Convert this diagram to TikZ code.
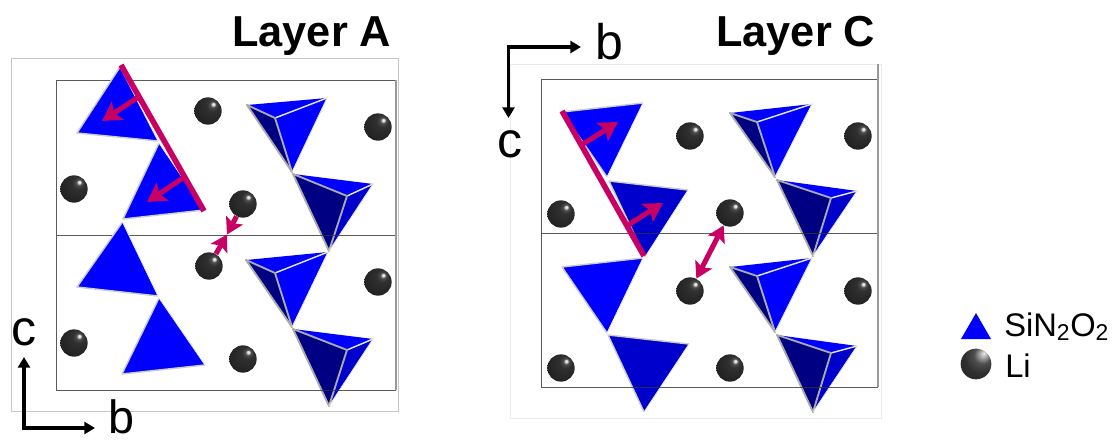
\documentclass[tikz,border=0pt]{standalone}
\usepackage{fontspec}
\setmainfont{Liberation Sans}
\usetikzlibrary{arrows.meta}
\definecolor{pinkline}{RGB}{200,0,100}
\definecolor{tblue}{RGB}{0,0,255}
\definecolor{tmid}{RGB}{0,0,205}
\definecolor{tnavy}{RGB}{0,0,130}
\definecolor{edgegray}{RGB}{170,170,170}
\definecolor{framedark}{RGB}{50,50,50}
\definecolor{spa}{RGB}{235,235,235}
\definecolor{spb}{RGB}{78,78,78}
\definecolor{spc}{RGB}{48,48,48}
\definecolor{spd}{RGB}{28,28,28}
\definecolor{spe}{RGB}{52,52,52}
\pgfdeclareradialshading{lisph}{\pgfpoint{10bp}{13bp}}{%
  color(0bp)=(spa);color(2bp)=(spa);color(5bp)=(spb);
  color(11bp)=(spc);color(40bp)=(spd);color(56bp)=(spd);color(66bp)=(spe)}
\pgfdeclareradialshading{lisphbig}{\pgfpoint{13bp}{18bp}}{%
  color(0bp)=(spa);color(14bp)=(spb);color(26bp)=(spc);color(50bp)=(spd);color(70bp)=(spd)}
\tikzset{
  lisphere/.style={circle,minimum size=20.5pt,inner sep=0pt,shading=lisph},
  outerframe/.style={draw=#1,line width=0.7pt},
  innerframe/.style={draw=framedark,line width=0.7pt,draw opacity=0.8},
  sideframe/.style={draw=gray!80,line width=1.3pt},
  softedge/.style={draw=white!80!black,line width=1.1pt,line join=round},
  whiteedge/.style={draw=white!90!black,line width=1.1pt,line cap=round},
  graytet/.style={draw=edgegray,line width=1.4pt,line cap=round},
  plane/.style={draw=pinkline,line width=4.2pt},
  motion/.style={draw=pinkline,line width=3.8pt,-{Stealth[length=14pt,width=16pt,inset=3pt]}},
  motionshort/.style={draw=pinkline,line width=3.8pt,-{Stealth[length=12pt,width=14pt,inset=2.5pt]}},
  motionboth/.style={draw=pinkline,line width=3.8pt,{Stealth[length=12pt,width=14pt,inset=2.5pt]}-{Stealth[length=12pt,width=14pt,inset=2.5pt]}},
  axis/.style={draw=black,line width=2.7pt,line join=miter,{Triangle[length=8pt,width=9pt]}-{Triangle[length=8pt,width=9pt]}},
  axistext/.style={anchor=base west,inner sep=0pt,font=\fontsize{37.5}{40}\selectfont},
  title/.style={anchor=base west,inner sep=0pt,font=\fontsize{32.5}{36}\selectfont\bfseries},
  legendtext/.style={anchor=base west,inner sep=0pt,font=\fontsize{24.5}{28}\selectfont}
}
% left, top right, centre, bottom, colour of right face
\newcommand{\tetra}[5]{%
  \fill[tblue] #1 -- #2 -- #3 -- cycle;
  \fill[tnavy] #1 -- #3 -- #4 -- cycle;
  \fill[#5] #3 -- #2 -- #4 -- cycle;
  \draw[whiteedge] #3 -- #2;
  \draw[graytet] #1 -- #3 -- #4;
  \draw[graytet] #1 -- #4;
  \draw[draw=white!90!black,line width=0.6pt] #2 -- #4;
}
% first and second vertex joined by the gray left edge, second and third by the lower edge
\newcommand{\tria}[4]{%
  \fill[#4] #1 -- #2 -- #3 -- cycle;
  \draw[softedge] #1 -- #2 -- #3;
  \draw[draw=white!92!black,line width=0.6pt] #3 -- #1;
}
\begin{document}
\begin{tikzpicture}[x=0.75pt,y=-0.75pt]
\useasboundingbox[fill=white] (0,0) rectangle (1112,441);

% light outer frames
\draw[outerframe=gray!45] (11.5,58.5) rectangle (398,411);
\draw[outerframe=gray!16] (510,64) rectangle (881,418);

% Layer A, right column
\tetra{(247,105)}{(327,98)}{(275,118)}{(292,172)}{tblue}
\tetra{(293,174)}{(373,184)}{(347,196)}{(329,251)}{tmid}
\tetra{(246,260)}{(328,252)}{(275,273)}{(292,327)}{tblue}
\tetra{(293,329)}{(373,339)}{(347,350)}{(329,406)}{tmid}

% Layer C, right column
\tetra{(730,113)}{(812,104)}{(757,122)}{(775,177)}{tblue}
\tetra{(777,180)}{(857,191)}{(831,198)}{(813,256)}{tmid}
\tetra{(730,267)}{(812,258)}{(757,276)}{(775,332)}{tblue}
\tetra{(777,335)}{(857,346)}{(831,353)}{(813,412)}{tmid}

% Layer C, lower triangles of each pair (behind the cell lines)
\tria{(645,257)}{(609,181)}{(688,190)}{tmid}
\tria{(644,412)}{(608,335)}{(689,344)}{tmid}

% cell frames
\draw[innerframe] (396,80) -- (56.5,80) -- (56.5,390) -- (396,390);
\draw[innerframe] (56.5,235) -- (396,235);
\draw[sideframe] (396,80) -- (396,390);
\draw[innerframe] (878,79) -- (541,79) -- (541,387) -- (878,387);
\draw[innerframe] (541,233.5) -- (878,233.5);
\draw[sideframe] (878,64) -- (878,387);

% Layer A, left column
\tria{(120,67)}{(77,133)}{(158,141)}{tblue}
\tria{(159,143)}{(123,219)}{(204,210)}{tblue}
\tria{(122.5,222)}{(77,287)}{(158,296)}{tblue}
\tria{(159,298)}{(122,374)}{(205,365)}{tblue}

% Layer C, upper triangles of each pair
\tria{(607,177)}{(562,112)}{(643,103)}{tblue}
\tria{(607,333)}{(562,267)}{(643,258)}{tblue}

% lithium spheres, Layer A
\node[lisphere] (la1) at (208,111) {};
\node[lisphere] (la2) at (74,189) {};
\node[lisphere] (la3) at (243,204) {};
\node[lisphere] (la4) at (209,266) {};
\node[lisphere] (la5) at (378,127) {};
\node[lisphere] (la6) at (378,282) {};
\node[lisphere] (la7) at (74,343) {};
\node[lisphere] (la8) at (243,359) {};

% lithium spheres, Layer C
\node[lisphere] (lc1) at (690,136) {};
\node[lisphere] (lc2) at (561,214) {};
\node[lisphere] (lc3) at (690,291) {};
\node[lisphere] (lc4) at (561,368) {};
\node[lisphere] (lc5) at (730,213) {};
\node[lisphere] (lc6) at (858,136) {};
\node[lisphere] (lc7) at (858,291) {};
\node[lisphere] (lc8) at (730,368) {};

% pink planes and arrows, Layer A
\coordinate (pa1) at (121,65);
\coordinate (pa2) at (204,211);
\draw[plane] (pa1) -- (pa2);
\coordinate (ma1s) at (137,98);
\coordinate (ma1e) at (102,121);
\coordinate (ma2s) at (183,178);
\coordinate (ma2e) at (147,202);
\draw[motion] (ma1s) -- (ma1e);
\draw[motion] (ma2s) -- (ma2e);
\coordinate (mid) at (227,234.5);
\draw[motionshort] (la3) -- (mid);
\draw[motionshort] (la4) -- (mid);

% pink planes and arrows, Layer C
\coordinate (pc1) at (562,111);
\coordinate (pc2) at (644,256);
\draw[plane] (pc1) -- (pc2);
\coordinate (mc1s) at (583,144);
\coordinate (mc1e) at (618,122);
\coordinate (mc2s) at (628,225);
\coordinate (mc2e) at (663,203);
\draw[motion] (mc1s) -- (mc1e);
\draw[motion] (mc2s) -- (mc2e);
\draw[motionboth] (lc5) -- (lc3);

% axes, Layer A
\coordinate (ac) at (24,357);
\coordinate (ao) at (24,428);
\coordinate (ab) at (95,428);
\draw[axis] (ac) -- (ao) -- (ab);
\node[axistext] (cA) at (11,345) {c};
\node[axistext,font=\fontsize{35}{37}\selectfont] (bA) at (108,433) {b};

% axes, Layer C
\coordinate (cc) at (508.5,118);
\coordinate (co) at (508.5,47);
\coordinate (cb) at (581,47);
\draw[axis] (cb) -- (co) -- (cc);
\node[axistext] (cC) at (497,158) {c};
\node[axistext] (bC) at (595,60) {b};

% titles
\node[title] (tA) at (232,47) {Layer A};
\node[title] (tC) at (716,47) {Layer C};

% legend
\fill[tblue] (961,339) -- (976,313) -- (991,339) -- cycle;
\node[lisphere,minimum size=23pt,shading=lisphbig] (lgli) at (976,364) {};
\node[legendtext] (lgs) at (1004,336) {SiN$_{\mathrm{2}}$O$_{\mathrm{2}}$};
\node[legendtext] (lgl) at (1005,377) {Li};
\end{tikzpicture}
\end{document}
